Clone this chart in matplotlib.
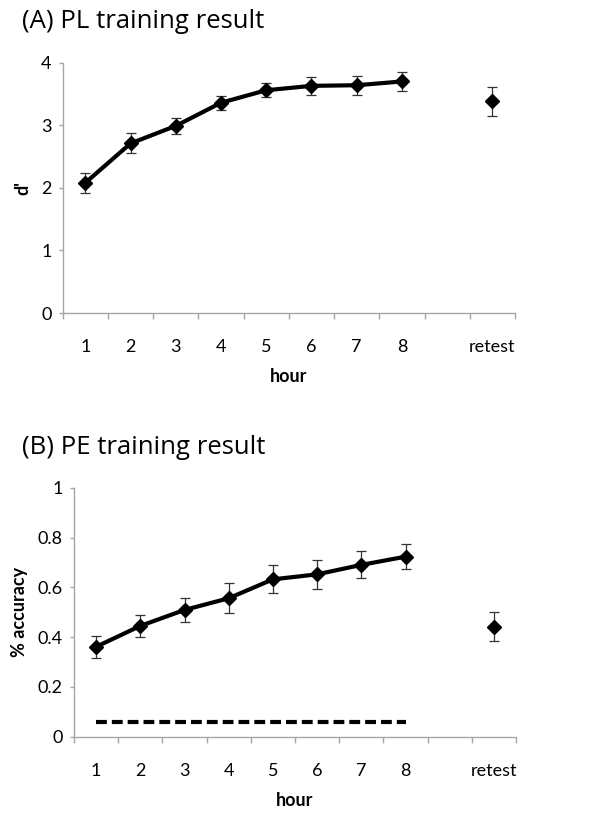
import matplotlib
matplotlib.use("Agg")
import matplotlib.pyplot as plt
import numpy as np

# ---- data ----
categories = ["1", "2", "3", "4", "5", "6", "7", "8", "", "retest"]
train_idx = [0, 1, 2, 3, 4, 5, 6, 7]
retest_idx = [9]

pl_train = [2.08, 2.71, 2.99, 3.36, 3.56, 3.63, 3.64, 3.70]
pl_train_err = [0.165, 0.16, 0.13, 0.115, 0.11, 0.14, 0.155, 0.155]
pl_retest = [3.38]
pl_retest_err = [0.23]

pe_train = [0.361, 0.445, 0.509, 0.556, 0.632, 0.652, 0.690, 0.723]
pe_train_err = [0.043, 0.045, 0.048, 0.061, 0.056, 0.058, 0.054, 0.049]
pe_retest = [0.442]
pe_retest_err = [0.058]
pe_chance = [0.058] * 8

pl_yticks = [0, 1, 2, 3, 4]
pl_yticklabels = ["0", "1", "2", "3", "4"]
pe_yticks = [0, 0.2, 0.4, 0.6, 0.8, 1.0]
pe_yticklabels = ["0", "0.2", "0.4", "0.6", "0.8", "1"]

plt.rcParams['font.family'] = ['Lato', 'DejaVu Sans']

W, H = 601, 814
fig = plt.figure(figsize=(W / 100, H / 100), dpi=100)

GRAY = "#a6a6a6"
FS = 13


def style_axes(ax, ylim, yticks, yticklabels, ylabel):
    for s in ["top", "right"]:
        ax.spines[s].set_visible(False)
    for s in ["left", "bottom"]:
        ax.spines[s].set_color(GRAY)
        ax.spines[s].set_linewidth(1.0)
    n = len(categories)
    ax.set_xlim(-0.5, n - 0.5)
    ax.set_ylim(*ylim)
    ax.set_xticks(np.arange(-0.5, n, 1.0))
    ax.set_xticklabels([])
    ax.set_xticks(np.arange(n), minor=True)
    ax.set_xticklabels(categories, minor=True, fontsize=FS)
    ax.tick_params(axis="x", which="major", direction="out", length=4,
                   color=GRAY, width=1.0)
    ax.tick_params(axis="x", which="minor", length=0, pad=19)
    ax.set_yticks(yticks)
    ax.set_yticklabels(yticklabels, fontsize=FS)
    ax.tick_params(axis="y", direction="out", length=3, color=GRAY,
                   width=1.0, pad=5)
    ax.set_xlabel("hour", fontsize=FS, fontweight="bold", labelpad=9)
    ax.set_ylabel(ylabel, fontsize=FS, fontweight="bold", labelpad=7)


# ---- panel A ----
axA = fig.add_axes([62.7 / W, 1 - 313 / H, (515 - 62.7) / W, (313 - 62.7) / H])
axA.errorbar(train_idx, pl_train, yerr=pl_train_err, color="black", lw=3,
             marker="D", ms=7.5, ecolor="#333333", elinewidth=0.9,
             capsize=3.5, capthick=0.9, zorder=3)
axA.errorbar(retest_idx, pl_retest, yerr=pl_retest_err, color="black", lw=0,
             marker="D", ms=7.5, ecolor="#333333", elinewidth=0.9,
             capsize=3.5, capthick=0.9, zorder=3)
style_axes(axA, (0, 4), pl_yticks, pl_yticklabels, "d'")
fig.text(22 / W, 1 - 21 / H, "(A) PL training result", fontsize=18.5,
         family=["Open Sans", "DejaVu Sans"], ha="left", va="center")

# ---- panel B ----
axB = fig.add_axes([74 / W, 1 - 736.7 / H, (516 - 74) / W, (736.7 - 487.7) / H])
axB.plot(train_idx, pe_chance, color="black", lw=3,
         linestyle=(0, (2.6, 1.2)), solid_capstyle="butt",
         dash_capstyle="butt", zorder=2)
axB.errorbar(train_idx, pe_train, yerr=pe_train_err, color="black", lw=3,
             marker="D", ms=7.5, ecolor="#333333", elinewidth=0.9,
             capsize=3.5, capthick=0.9, zorder=3)
axB.errorbar(retest_idx, pe_retest, yerr=pe_retest_err, color="black", lw=0,
             marker="D", ms=7.5, ecolor="#333333", elinewidth=0.9,
             capsize=3.5, capthick=0.9, zorder=3)
style_axes(axB, (0, 1), pe_yticks, pe_yticklabels, "% accuracy")
fig.text(22 / W, 1 - 448 / H, "(B) PE training result", fontsize=18.5,
         family=["Open Sans", "DejaVu Sans"], ha="left", va="center")

fig.savefig("out.png", dpi=100)
